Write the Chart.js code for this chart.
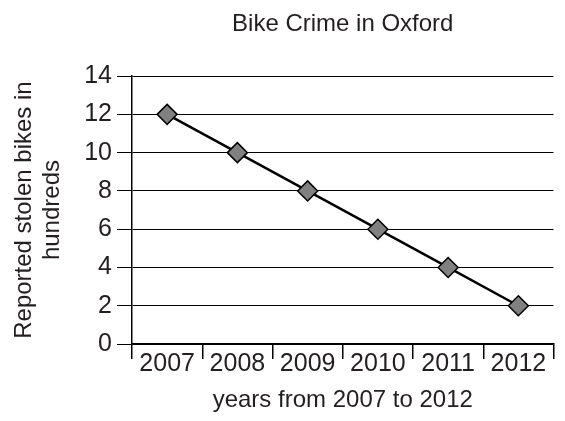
<!DOCTYPE html>
<html lang="en">
<head>
  <meta charset="UTF-8" />
  <title>Bike Crime in Oxford</title>
  <script src="https://cdn.jsdelivr.net/npm/chart.js"></script>
  <style>
    body {
      margin: 0;
      background: #fff;
    }
  </style>
</head>
<body>
  <canvas id="bikeChart" width="565" height="421"></canvas>

  <script>
    // data
    const years = ['2007', '2008', '2009', '2010', '2011', '2012'];
    const stolenBikes = [12, 10, 8, 6, 4, 2];
    const yMin = 0;
    const yMax = 14;
    const yStep = 2;

    const ink = '#231f20';
    const family = '"Liberation Sans", Arial, sans-serif';
    const titleFont = { family, size: 24, lineHeight: 1.15, weight: 'normal' };
    const tickFont = { family, size: 25, lineHeight: 1.15 };

    new Chart(document.getElementById('bikeChart'), {
      type: 'line',
      data: {
        labels: years,
        datasets: [{
          data: stolenBikes,
          borderColor: '#000',
          borderWidth: 2.5,
          pointStyle: 'rectRot',
          pointRadius: 10,
          pointBackgroundColor: '#808080',
          pointBorderColor: '#000',
          pointBorderWidth: 1.5,
          tension: 0
        }]
      },
      options: {
        responsive: false,
        animation: false,
        layout: { padding: { left: 0, right: 9, top: 0, bottom: 0 } },
        plugins: {
          legend: { display: false },
          tooltip: { enabled: false },
          title: {
            display: true,
            text: 'Bike Crime in Oxford',
            fullSize: false,
            color: ink,
            font: titleFont,
            padding: { top: 11, bottom: 37.5 }
          }
        },
        scales: {
          x: {
            offset: true,
            afterFit: s => { s.height = 77; },
            grid: {
              offset: true,
              drawOnChartArea: false,
              drawTicks: true,
              tickLength: 15,
              color: '#000',
              lineWidth: 1.5
            },
            border: { display: true, color: '#000', width: 1.5 },
            ticks: { color: ink, font: tickFont, padding: -9, maxRotation: 0 },
            title: {
              display: true,
              text: 'years from 2007 to 2012',
              color: ink,
              font: titleFont,
              padding: { top: 0, bottom: 7 }
            }
          },
          y: {
            min: yMin,
            max: yMax,
            afterFit: s => { s.width = 132; },
            grid: {
              color: '#000',
              lineWidth: 1,
              tickLength: 15
            },
            border: { display: true, color: '#000', width: 1.5 },
            ticks: { stepSize: yStep, color: ink, font: tickFont, padding: 5 },
            title: {
              display: true,
              text: ['Reported stolen bikes in', 'hundreds'],
              color: ink,
              font: titleFont,
              padding: { top: 11, bottom: 0 }
            }
          }
        }
      }
    });
  </script>
</body>
</html>
